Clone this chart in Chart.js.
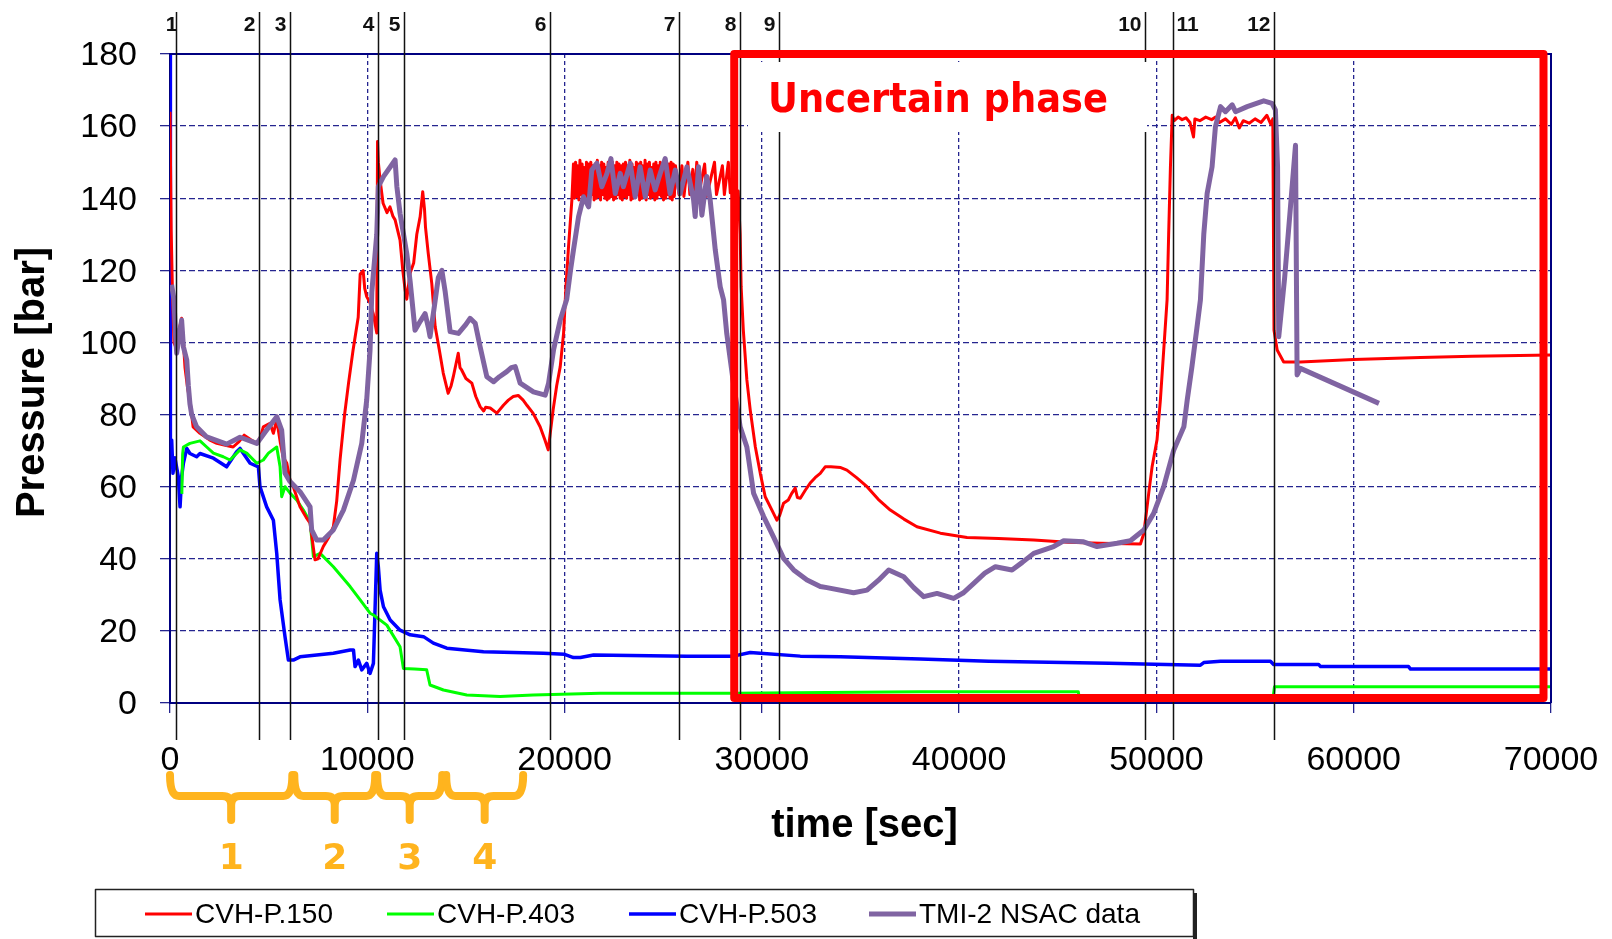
<!DOCTYPE html>
<html>
<head>
<meta charset="utf-8">
<title>TMI-2 pressure</title>
<script src="https://cdn.jsdelivr.net/npm/chart.js@4.4.1/dist/chart.umd.min.js"></script>
<style>
  html, body { margin: 0; padding: 0; background: #fff; }
  #wrap { width: 1612px; height: 939px; }
</style>
</head>
<body>
<div id="wrap"><canvas id="pressureChart" width="1612" height="939"></canvas></div>
<script>
// ---- data (time in s, pressure in bar) ----
const xTickValues = [0, 10000, 20000, 30000, 40000, 50000, 60000, 70000];
const yTickValues = [0, 20, 40, 60, 80, 100, 120, 140, 160, 180];

// CVH-P.150, split in three pieces: transient, saturated band, rest
const redEarlyTime = [0, 60, 120, 200, 340, 480, 590, 680, 760, 900, 1010, 1170, 1520, 2000, 2370, 2800, 3200, 3500, 3760, 4100,
  4400, 4600, 4730, 5070, 5240, 5410, 5600, 5730, 5920, 6085, 6250, 6590, 6900, 7100, 7350, 7500, 7770, 8050, 8280, 8450,
  8620, 8850, 9050, 9280, 9540, 9640, 9790, 9870, 9970, 10140, 10300, 10480, 10520, 10560, 10650, 10800, 11000, 11150, 11300, 11410,
  11660, 11800, 11920, 12000, 12170, 12350, 12510, 12680, 12810, 12900, 12950, 13090, 13270, 13440, 13650, 13850, 14100, 14250, 14360, 14610,
  14700, 14790, 15000, 15300, 15500, 15720, 15900, 16000, 16230, 16570, 16900, 17150, 17400, 17650, 17900, 18100, 18400, 18760, 19000, 19170,
  19420, 19600, 19780, 19950, 20070, 20200, 20370];
const redEarlyP = [164, 131, 115, 100, 98, 104, 106.7, 100, 93, 87, 84, 76.6, 74.8, 73, 72, 71.5, 71, 72.5, 74.3, 73,
  72, 74, 76.6, 77.6, 74.8, 78.5, 72, 68.3, 66.5, 61.8, 60, 54.4, 51.5, 49.9, 39.7, 40, 43.4, 46, 48.9, 56,
  67.4, 80, 88.7, 97.9, 107, 119, 119.9, 115, 112.7, 111, 108, 102.6, 155.7, 150, 145, 138.6, 136, 137.6, 135, 134,
  128.4, 120, 114.5, 112, 119.2, 122, 130, 134.9, 141.8, 137, 132, 124.7, 116.3, 104.4, 98, 91.5, 85.9, 88, 90.5, 97,
  93, 92.3, 90, 88.7, 85, 82.2, 81, 82, 81.8, 80.4, 82.6, 84, 85, 85.3, 84, 82.5, 80.4, 76.6, 73, 70.2,
  81.3, 88, 93.3, 102.6, 115.4, 126.5, 139.5];

const redBandTime = [20450, 20505, 20560, 20615, 20670, 20725, 20780, 20835, 20890, 20945, 21000, 21055, 21110, 21165, 21220, 21275, 21330, 21385, 21440, 21495,
  21550, 21605, 21660, 21715, 21770, 21825, 21880, 21935, 21990, 22045, 22100, 22155, 22210, 22265, 22320, 22375, 22430, 22485, 22540, 22595,
  22650, 22705, 22760, 22815, 22870, 22925, 22980, 23035, 23090, 23145, 23200, 23255, 23310, 23365, 23420, 23475, 23530, 23585, 23640, 23695,
  23750, 23805, 23860, 23915, 23970, 24025, 24080, 24135, 24190, 24245, 24300, 24355, 24410, 24465, 24520, 24575, 24630, 24685, 24740, 24795,
  24850, 24905, 24960, 25015, 25070, 25125, 25180, 25235, 25290, 25345, 25400, 25455, 25510, 25565, 25620];
const redBandP = [149.5, 140, 150, 140.5, 149, 139.5, 150.5, 141, 149.5, 140, 148.5, 139.5, 150, 140.5, 149.5, 140, 150, 141, 149, 139.5,
  149.5, 140, 150.5, 140.5, 149, 139.5, 150, 141, 149.5, 140, 148.5, 139.5, 150, 140, 149.5, 140.5, 150, 139.5, 149, 140,
  150, 141, 149.5, 140, 149, 139.5, 149.5, 140.5, 150, 140, 149, 141, 150.5, 139.5, 149.5, 140, 148.5, 140.5, 150, 141,
  149.5, 139.5, 150, 140, 149, 140.5, 150.5, 139.5, 149.5, 141, 150, 140, 148.5, 140.5, 149.5, 139.5, 150, 140, 149, 141,
  150, 140.5, 149.5, 139.5, 150.5, 140, 149, 141, 149.5, 140, 150, 139.5, 149.5, 140.5, 149];

const redLateTime = [25800, 25950, 26050, 26250, 26350, 26500, 26600, 26700, 26800, 27100, 27200, 27600, 27700, 28000, 28100, 28300, 28400, 28600, 28700, 28800,
  28900, 28950, 29060, 29240, 29410, 29670, 29920, 30170, 30510, 30760, 30900, 31100, 31340, 31500, 31690, 31800, 31950, 32200, 32450, 32700,
  32960, 33210, 33500, 34000, 34310, 34800, 35330, 35900, 36510, 37200, 37860, 39050, 40400, 42000, 43780, 45500, 47160, 49190, 49360, 49610,
  49780, 50030, 50200, 50370, 50540, 50620, 50710, 50800, 50900, 51100, 51300, 51500, 51700, 51880, 51950, 52200, 52500, 52800, 53000, 53200,
  53500, 53800, 54000, 54200, 54400, 54700, 55000, 55300, 55600, 55800, 55900, 55960, 56120, 56450, 57300, 60000, 63390, 66000, 70000];
const redLateP = [141, 149, 140.5, 150, 141, 148, 140, 150, 141, 149.5, 140.5, 150, 141, 149, 141, 150, 141.5, 149, 142, 142,
  130, 115.4, 103.4, 89.6, 81.3, 71, 63.7, 57.2, 53.5, 50.7, 52, 55.4, 56.3, 58, 59.6, 57, 56.8, 59, 61, 62.5,
  63.7, 65.5, 65.5, 65.3, 64.6, 62.5, 60, 56.5, 53.5, 51, 48.9, 47.1, 45.9, 45.6, 45.2, 44.6, 44.3, 44.1, 47, 58.2,
  65.5, 73, 84, 97.9, 111.8, 130, 148.7, 163, 161.5, 162.5, 161.8, 162.3, 161, 157, 162, 161.5, 162.5, 161.8, 162.5, 161,
  162, 160.5, 162.3, 159.5, 161.5, 160.8, 162, 161, 163, 160.5, 162, 103.4, 97.9, 94.6, 94.6, 95.3, 95.8, 96.2, 96.5];

const greenTime = [600, 640, 680, 1010, 1520, 1860, 2200, 2700, 3040, 3550, 3890, 4400, 4730, 4990, 5410, 5580, 5660, 5830, 6085, 6420,
  6760, 7100, 7270, 7610, 8280, 9130, 9640, 10140, 10310, 10990, 11660, 11830, 12400, 13010, 13180, 13860, 15040, 16730, 18410, 21800,
  28600, 38000, 46040, 46100, 55900, 55984, 70000];
const greenP = [58, 69, 71, 72, 72.7, 71, 69.3, 68.3, 67.4, 70.2, 69.3, 66.5, 67.4, 69.3, 71, 65.5, 57.2, 60, 58.2, 56.3,
  53.5, 50.3, 40.6, 41.5, 37.8, 32.3, 28.6, 24.9, 24.4, 21.6, 15.6, 9.6, 9.4, 9.2, 5, 3.6, 2.2, 1.8, 2.2, 2.7,
  2.7, 3.1, 3.1, 1, 1, 4.5, 4.5];

const blueTime = [0, 20, 85, 150, 250, 420, 510, 590, 680, 850, 1010, 1350, 1520, 2200, 2870, 3380, 3550, 4060, 4480, 4560,
  4900, 5240, 5410, 5580, 5830, 6000, 6250, 6590, 7440, 8280, 9130, 9300, 9380, 9550, 9720, 9970, 10140, 10310, 10480, 10560,
  10650, 10820, 11160, 11660, 12170, 12850, 13350, 14030, 15890, 18930, 20000, 20450, 20800, 21470, 26200, 28560, 29410, 29920, 31950, 33980,
  38030, 41500, 47580, 52230, 52400, 53250, 55780, 55940, 58220, 58320, 62780, 62880, 70000];
const blueP = [180, 73, 72.9, 63.7, 68, 62.8, 54.4, 62.8, 66.5, 70.6, 69.2, 68.3, 69.2, 67.9, 65.5, 69.7, 70.6, 66.5, 65.5, 60,
  54.4, 50.7, 41.5, 28.6, 18.4, 11.9, 11.9, 12.8, 13.3, 13.8, 14.7, 14.7, 10.1, 11.9, 9.2, 11, 8.2, 11, 41.5, 37.8,
  31.3, 26.7, 23, 20.2, 18.9, 18.4, 16.6, 15.2, 14.2, 13.8, 13.5, 12.6, 12.6, 13.3, 13, 13, 14, 13.8, 13, 12.8,
  12.2, 11.6, 11, 10.5, 11.2, 11.6, 11.6, 10.7, 10.7, 10.1, 10.1, 9.4, 9.4];

const tmiTime = [80, 200, 280, 340, 510, 590, 680, 850, 930, 1010, 1100, 1350, 1860, 2870, 3550, 4400, 4900, 5410, 5660, 5830,
  6085, 6590, 7100, 7180, 7440, 7770, 8280, 8790, 9300, 9720, 9970, 10140, 10230, 10480, 10560, 10820, 11410, 11500, 11660, 12000,
  12170, 12420, 12700, 12930, 13100, 13180, 13400, 13600, 13780, 13950, 14200, 14620, 15000, 15210, 15470, 15720, 16060, 16400, 16700, 17070,
  17300, 17500, 17750, 18420, 19020, 19190, 19440, 19780, 20110, 20300, 20450, 20710, 20960, 21220, 21380, 21640, 21890, 22150, 22350, 22570,
  22820, 22980, 23330, 23580, 23830, 24090, 24340, 24590, 24850, 25100, 25350, 25610, 25860, 26200, 26540, 26620, 26790, 26960, 27210, 27380,
  27640, 27890, 28060, 28220, 28560, 28900, 29240, 29580, 30090, 30590, 31100, 31610, 32290, 32960, 33300, 34650, 35330, 35900, 36430, 37190,
  37700, 38200, 38880, 39720, 40200, 40740, 41300, 41840, 42680, 43200, 43780, 44790, 45300, 46310, 46990, 48000, 48680, 49360, 49860, 50370,
  50880, 51390, 51560, 51800, 52060, 52230, 52400, 52570, 52820, 52990, 53250, 53500, 53840, 54010, 54600, 55440, 55860, 56030, 56140, 56200,
  56500, 56800, 57050, 57130, 57300, 61280];
const tmiP = [116, 112, 102, 97, 103.4, 106.2, 98.8, 95.1, 88, 83, 80, 76.6, 73.8, 71.8, 73.7, 72, 75.7, 79.4, 75.7, 63.7,
  61.4, 58.6, 54.4, 48, 45.2, 45.2, 48, 53.5, 61.8, 72, 84, 97.9, 114, 130, 143.2, 146, 150.6, 143.2, 135.8, 124.7,
  117, 103.4, 106, 108, 104, 101.6, 110, 118, 120, 114, 103, 102.5, 105, 106.7, 105.3, 98.8, 90.5, 89.1, 90.5, 91.9,
  93, 93.3, 88.7, 86.3, 85.4, 88.7, 97.9, 106.2, 112, 120, 125.6, 134.9, 140.4, 137.6, 147.8, 149.7, 143.2, 146.9, 151, 141.3,
  146.9, 143.2, 149.7, 140.4, 148.7, 140.4, 147.8, 142.3, 146.9, 151, 141.3, 147.8, 141.3, 148.7, 139.5, 134.9, 148.7, 135.3, 146, 139.5,
  125.6, 115.4, 111.8, 102.5, 88.7, 76.6, 71, 58.2, 51.7, 46.1, 40.1, 36.9, 34.1, 32.3, 32, 30.6, 31.3, 34, 36.9, 35,
  32, 29.5, 30.4, 29, 30.5, 33.2, 36, 37.8, 36.9, 39, 41.5, 43.4, 45, 44.7, 43.4, 44.3, 45, 48, 52.6, 60,
  70.2, 76.6, 84, 93.3, 104.4, 111.8, 130, 141.3, 148.7, 159.8, 165.4, 164, 165.9, 164, 165.4, 167, 166.3, 164.5, 148.7, 101.6,
  118, 138, 154.7, 91, 92.8, 83.1];

// numbered events (vertical markers) and phase brackets under the axis
const eventTime = [290, 4530, 6085, 10560, 11870, 19255, 25800, 28905, 30850, 49440, 50830, 55984];
const eventLabel = ['1', '2', '3', '4', '5', '6', '7', '8', '9', '10', '11', '12'];
const phaseStart = [0, 6300, 10500, 14000];
const phaseEnd = [6200, 10400, 13800, 17900];
const phaseLabel = ['1', '2', '3', '4'];
const uncertainBox = { t0: 28600, t1: 69620, p0: 1.4, p1: 180 };

const toPoints = (ts, ps) => ts.map((t, i) => ({ x: t, y: ps[i] }));
const redTime = [...redEarlyTime, ...redBandTime, ...redLateTime];
const redP = [...redEarlyP, ...redBandP, ...redLateP];

const GRID = '#25258f';
const AXIS = '#000080';
const ORANGE = '#FFB41E';

/* overlays: markers, uncertain phase box, braces, titles, legend */
const overlays = {
  id: 'overlays',
  afterDatasetsDraw(chart) {
    const { ctx, chartArea: a, scales: { x, y } } = chart;
    ctx.save();

    // top and right frame
    ctx.strokeStyle = AXIS;
    ctx.lineWidth = 2;
    ctx.beginPath();
    ctx.moveTo(a.left, a.top);
    ctx.lineTo(a.right, a.top);
    ctx.lineTo(a.right, a.bottom);
    ctx.stroke();

    // event lines
    ctx.strokeStyle = '#111';
    ctx.lineWidth = 1.5;
    ctx.fillStyle = '#111';
    ctx.font = 'bold 21px "Liberation Sans"';
    ctx.textBaseline = 'alphabetic';
    eventTime.forEach((t, i) => {
      const px = Math.round(x.getPixelForValue(t)) + 0.5;
      ctx.beginPath();
      ctx.moveTo(px, 12);
      ctx.lineTo(px, 740);
      ctx.stroke();
      if (eventLabel[i] === '11') {
        ctx.textAlign = 'left';
        ctx.fillText(eventLabel[i], px + 3, 31);
      } else if (eventLabel[i] === '1') {
        ctx.textAlign = 'right';
        ctx.fillText(eventLabel[i], px + 1, 31);
      } else {
        ctx.textAlign = 'right';
        ctx.fillText(eventLabel[i], px - 4, 31);
      }
    });

    // label box + text
    ctx.fillStyle = '#fff';
    ctx.fillRect(748, 62, 399, 70);
    const txt = 'Uncertain phase';
    ctx.font = 'bold 40px "DejaVu Sans"';
    const w = ctx.measureText(txt).width;
    ctx.fillStyle = '#FF0000';
    ctx.textAlign = 'left';
    ctx.translate(768, 112);
    ctx.scale(340 / w, 1);
    ctx.fillText(txt, 0, 0);
    ctx.setTransform(1, 0, 0, 1, 0, 0);

    // red frame for uncertain phase
    const bx0 = x.getPixelForValue(uncertainBox.t0);
    const bx1 = x.getPixelForValue(uncertainBox.t1);
    const by0 = y.getPixelForValue(uncertainBox.p1);
    const by1 = y.getPixelForValue(uncertainBox.p0);
    ctx.strokeStyle = '#FF0000';
    ctx.lineWidth = 8;
    ctx.lineJoin = 'round';
    ctx.strokeRect(bx0, by0, bx1 - bx0, by1 - by0);
    ctx.restore();
  },
  afterDraw(chart) {
    const { ctx, chartArea: a, scales: { x } } = chart;
    ctx.save();

    // phase braces
    const yTop = 775, yBar = 796, yTip = 820, r = 9;
    ctx.strokeStyle = ORANGE;
    ctx.lineWidth = 8;
    ctx.lineCap = 'round';
    ctx.lineJoin = 'round';
    ctx.fillStyle = ORANGE;
    ctx.font = 'bold 36px "DejaVu Sans"';
    ctx.textAlign = 'center';
    ctx.textBaseline = 'middle';
    phaseStart.forEach((t0, i) => {
      const x1 = x.getPixelForValue(t0);
      const x2 = x.getPixelForValue(phaseEnd[i]);
      const xm = (x1 + x2) / 2;
      ctx.beginPath();
      ctx.moveTo(x1, yTop);
      ctx.quadraticCurveTo(x1, yBar, x1 + r, yBar);
      ctx.lineTo(xm - r, yBar);
      ctx.quadraticCurveTo(xm, yBar, xm, yBar + r);
      ctx.lineTo(xm, yTip);
      ctx.moveTo(xm, yBar + r);
      ctx.quadraticCurveTo(xm, yBar, xm + r, yBar);
      ctx.lineTo(x2 - r, yBar);
      ctx.quadraticCurveTo(x2, yBar, x2, yTop);
      ctx.stroke();
      ctx.fillText(phaseLabel[i], xm, 860);
    });

    // axis titles
    ctx.fillStyle = '#000';
    ctx.font = 'bold 40px "Liberation Sans"';
    ctx.textAlign = 'center';
    ctx.textBaseline = 'middle';
    ctx.fillText('time [sec]', (a.left + a.right) / 2 + 4, 826);
    ctx.save();
    ctx.translate(33, (a.top + a.bottom) / 2 + 4);
    ctx.rotate(-Math.PI / 2);
    ctx.fillText('Pressure [bar]', 0, 0);
    ctx.restore();

    // legend
    ctx.strokeStyle = '#222';
    ctx.lineWidth = 1.5;
    ctx.strokeRect(95.5, 889.5, 1098, 47);
    ctx.fillStyle = '#222';
    ctx.fillRect(1193, 893, 4, 46);
    const sampleX = [145, 387, 629, 869];
    ctx.font = '28px "Liberation Sans"';
    ctx.textAlign = 'left';
    ctx.fillStyle = '#000';
    chart.data.datasets.forEach((ds, i) => {
      ctx.strokeStyle = ds.borderColor;
      ctx.lineWidth = ds.borderWidth;
      ctx.lineCap = 'butt';
      ctx.beginPath();
      ctx.moveTo(sampleX[i], 914);
      ctx.lineTo(sampleX[i] + 47, 914);
      ctx.stroke();
      ctx.fillText(ds.label, sampleX[i] + 50, 915);
    });
    ctx.restore();
  }
};

new Chart(document.getElementById('pressureChart'), {
  type: 'line',
  data: {
    datasets: [
      { label: 'CVH-P.150', data: toPoints(redTime, redP), borderColor: '#FF0000', borderWidth: 3, order: 1 },
      { label: 'CVH-P.403', data: toPoints(greenTime, greenP), borderColor: '#00FF00', borderWidth: 3, order: 2 },
      { label: 'CVH-P.503', data: toPoints(blueTime, blueP), borderColor: '#0000FF', borderWidth: 3.5, order: 3 },
      { label: 'TMI-2 NSAC data', data: toPoints(tmiTime, tmiP), borderColor: '#8064A2', borderWidth: 5, order: 0 }
    ]
  },
  options: {
    responsive: false,
    animation: false,
    elements: { point: { radius: 0 }, line: { tension: 0, fill: false, borderJoinStyle: 'round' } },
    layout: { padding: { left: 0, top: 54, right: 61, bottom: 136 } },
    plugins: { legend: { display: false }, tooltip: { enabled: false } },
    scales: {
      x: {
        type: 'linear',
        min: 0,
        max: 70000,
        afterFit: s => { s.height = 100; s.paddingRight = 40; s.paddingLeft = 20; },
        afterBuildTicks: s => { s.ticks = xTickValues.map(v => ({ value: v })); },
        ticks: { color: '#000', font: { family: 'Liberation Sans', size: 34 }, padding: 27, maxRotation: 0, autoSkip: false,
                 callback: v => String(v) },
        grid: { color: GRID, lineWidth: 1.3, tickLength: 10, tickColor: GRID },
        border: { display: true, color: AXIS, width: 2, dash: [4, 3] }
      },
      y: {
        min: 0,
        max: 180,
        afterFit: s => { s.width = 170; s.paddingTop = 20; s.paddingBottom = 20; },
        afterBuildTicks: s => { s.ticks = yTickValues.map(v => ({ value: v })); },
        ticks: { color: '#000', font: { family: 'Liberation Sans', size: 34 }, padding: 23, labelOffset: 2,
                 callback: v => String(v) },
        grid: { color: GRID, lineWidth: 1.3, tickLength: 10, tickColor: GRID },
        border: { display: true, color: AXIS, width: 2, dash: [6, 3] }
      }
    }
  },
  plugins: [overlays]
});
</script>
</body>
</html>
